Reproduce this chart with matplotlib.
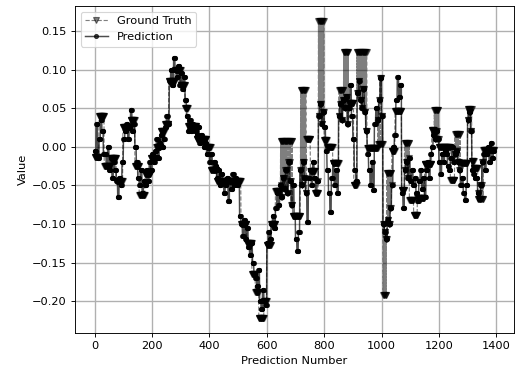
import numpy as np
import matplotlib.pyplot as plt

n_points = 1393
step = 5  # each prediction value below covers 5 samples

# prediction values, one row per ~35 samples
pred_rows = [
    [-0.005, 0.03, -0.015, 0.01, 0.035, 0.02, -0.01],
    [-0.01, -0.025, 0.0, -0.03, -0.015, -0.04, -0.02],
    [-0.03, -0.045, -0.065, -0.04, -0.05, -0.02, 0.01],
    [0.02, 0.03, 0.01, 0.025, 0.048, 0.02, 0.03],
    [0.0, -0.02, -0.04, -0.05, -0.03, -0.06, -0.045],
    [-0.05, -0.03, -0.045, -0.02, -0.03, -0.01, -0.02],
    [-0.005, 0.01, -0.015, 0.005, 0.015, 0.0, 0.01],
    [0.025, 0.04, 0.03, 0.085, 0.1, 0.08, 0.115],
    [0.1, 0.09, 0.105, 0.08, 0.095, 0.075, 0.09],
    [0.06, 0.04, 0.02, 0.035, 0.02, 0.03, 0.025],
    [0.02, 0.015, 0.025, 0.005, 0.015, 0.01, 0.0],
    [0.005, -0.01, 0.0, -0.02, -0.01, -0.03, -0.02],
    [-0.025, -0.04, -0.03, -0.05, -0.035, -0.045, -0.06],
    [-0.05, -0.04, -0.07, -0.045, -0.055, -0.035, -0.05],
    [-0.04, -0.05, -0.045, -0.09, -0.1, -0.115, -0.095],
    [-0.12, -0.105, -0.13, -0.14, -0.125, -0.15, -0.165],
    [-0.17, -0.18, -0.16, -0.2, -0.21, -0.185, -0.2],
    [-0.205, -0.125, -0.11, -0.12, -0.1, -0.09, -0.105],
    [-0.08, -0.06, -0.075, -0.05, -0.065, -0.04, -0.055],
    [-0.03, -0.06, -0.02, -0.045, -0.075, -0.05, -0.09],
    [-0.12, -0.135, -0.11, -0.03, -0.05, -0.02, -0.04],
    [-0.06, -0.098, -0.04, -0.03, -0.05, -0.02, -0.04],
    [-0.06, -0.045, 0.04, 0.055, 0.03, 0.045, 0.025],
    [-0.005, -0.03, -0.06, -0.085, -0.04, -0.02, -0.05],
    [-0.03, -0.06, 0.04, 0.055, 0.035, 0.06, 0.05],
    [0.065, 0.03, 0.05, 0.08, 0.04, 0.01, -0.03],
    [-0.045, 0.07, 0.085, 0.06, 0.05, 0.075, 0.045],
    [0.02, -0.01, -0.03, -0.05, -0.02, -0.056, 0.03],
    [0.05, 0.035, 0.06, 0.089, 0.04, -0.1, -0.11],
    [-0.12, -0.095, -0.1, -0.08, -0.05, 0.0, 0.015],
    [0.06, 0.09, 0.065, 0.08, -0.06, -0.08, -0.03],
    [-0.02, -0.04, -0.015, -0.045, -0.03, -0.05, -0.04],
    [-0.06, -0.07, -0.045, -0.03, -0.055, -0.04, -0.065],
    [-0.03, -0.02, -0.04, -0.01, 0.0, 0.015, 0.01],
    [0.02, 0.01, -0.02, -0.035, -0.01, -0.02, -0.005],
    [-0.01, -0.025, -0.03, -0.015, 0.0, -0.02, -0.01],
    [-0.005, -0.02, -0.03, -0.05, -0.04, -0.06, -0.069],
    [-0.05, 0.035, 0.045, 0.02, -0.03, -0.035, -0.04],
    [-0.04, -0.06, -0.068, -0.05, -0.02, -0.01, -0.03],
    [-0.01, 0.0, -0.02, 0.005, -0.015, -0.005],
]

# ground truth: step levels (start sample, value, wide band or not)
gt_start = [0, 15, 33, 55, 75, 98, 125, 140, 155, 175, 195, 215, 230, 245,
            258, 280, 300, 315, 325, 355, 390, 405, 425, 510, 530, 548, 560,
            572, 590, 600, 615, 630, 648, 690, 717, 738, 752, 768, 779, 800,
            810, 830, 851, 867, 886, 903, 914, 950, 987, 1005, 1018, 1036,
            1047, 1070, 1080, 1097, 1112, 1125, 1150, 1175, 1183, 1200, 1240,
            1255, 1275, 1300, 1315, 1322, 1336, 1355]
gt_level = [-0.013, 0.04, -0.025, -0.015, -0.045, 0.025, 0.035, -0.025,
            -0.063, -0.035, -0.015, 0.0, 0.02, 0.03, 0.085, 0.1, 0.08, 0.05,
            0.027, 0.01, 0.0, -0.03, -0.045, -0.1, -0.125, -0.165, -0.188,
            -0.222, -0.2, -0.127, -0.1, -0.057, 0.007, -0.09, 0.074, 0.01,
            -0.032, -0.06, 0.163, 0.009, -0.001, -0.021, 0.074, 0.123, 0.057,
            -0.049, 0.123, -0.002, 0.003, -0.192, -0.034, -0.005, 0.046,
            -0.056, 0.005, -0.069, -0.088, -0.066, -0.023, 0.022, 0.048, 0.0,
            -0.043, 0.017, -0.021, 0.049, -0.019, -0.027, -0.068, -0.004]
gt_band = [False] * len(gt_start)
for s in [648, 717, 779, 851, 867, 914, 987, 1005, 1018, 1080, 1183, 1255,
          1300, 1336]:
    gt_band[gt_start.index(s)] = True

idx = np.arange(n_points)
pred = np.repeat(np.concatenate(pred_rows), step)[:n_points]
seg = np.searchsorted(gt_start, idx, side='right') - 1
gt = np.array(gt_level)[seg]
alt = np.array(gt_band)[seg] & (idx % 2 == 1)
gt[alt] = pred[alt]

fig, ax = plt.subplots(figsize=(516 / 82, 375 / 82), dpi=82)
fig.subplots_adjust(left=0.145, right=0.996, bottom=0.112, top=0.984)

ax.plot(idx, gt, linestyle='--', color='k', alpha=0.5, marker='v',
        markersize=5, linewidth=1, label='Ground Truth')
ax.plot(idx, pred, linestyle='-', color='k', alpha=0.7, marker='o',
        markersize=3.5, linewidth=1.3, label='Prediction')

ax.grid(True, color='#b0b0b0', linewidth=1.2)
ax.set_axisbelow(True)
ax.set_xlabel('Prediction Number')
ax.set_ylabel('Value')
ax.set_xticks(np.arange(0, 1401, 200))
ax.legend(loc='upper left')

fig.savefig('out.png', dpi=82)
